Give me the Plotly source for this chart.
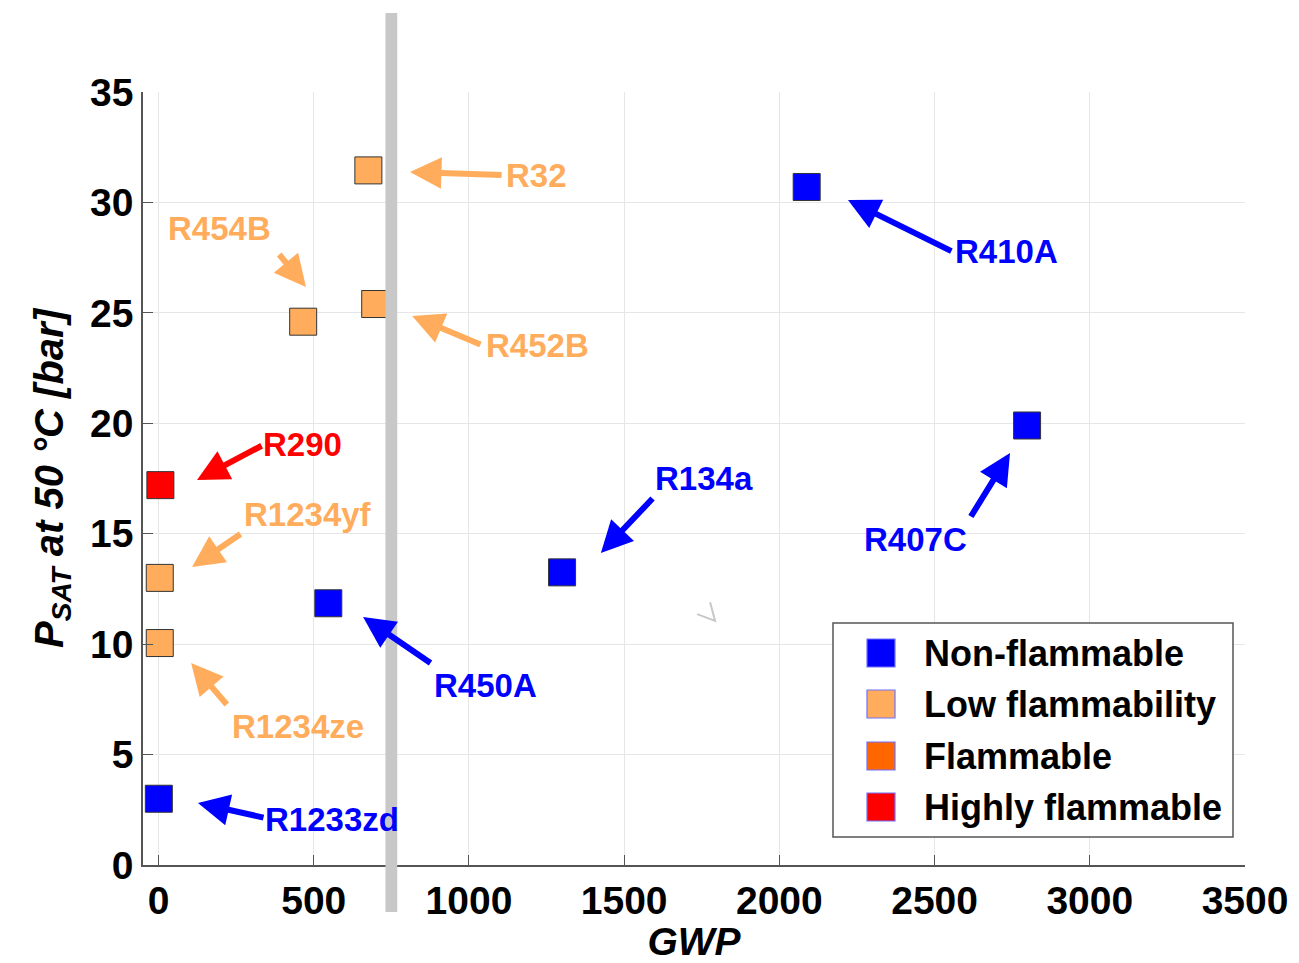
import plotly.graph_objects as go

# Refrigerant data: GWP vs saturation pressure at 50 °C
refrigerants = ["R32", "R454B", "R452B", "R290", "R1234yf", "R1234ze",
                "R1233zd", "R450A", "R134a", "R410A", "R407C"]
gwp = [676, 466, 698, 6, 4, 4, 1, 547, 1300, 2088, 2798]
psat = [31.45, 24.6, 25.4, 17.2, 13.0, 10.05, 3.0, 11.85, 13.25, 30.7, 19.9]
category = ["Low flammability", "Low flammability", "Low flammability",
            "Highly flammable", "Low flammability", "Low flammability",
            "Non-flammable", "Non-flammable", "Non-flammable",
            "Non-flammable", "Non-flammable"]

categories = ["Non-flammable", "Low flammability", "Flammable", "Highly flammable"]
cat_colors = {
    "Non-flammable": "#0000ff",
    "Low flammability": "#ffad5c",
    "Flammable": "#ff6600",
    "Highly flammable": "#ff0000",
}

# Label placement: (label x, label y, arrow tail x, tail y, arrow tip x, tip y)
label_pos = {
    "R32":     (1219, 31.24, 1110, 31.24, 810, 31.38),
    "R454B":   (198, 28.80, 385, 27.71, 475, 26.17),
    "R452B":   (1222, 23.50, 1042, 23.54, 817, 24.86),
    "R290":    (465, 19.06, 337, 19.02, 124, 17.43),
    "R1234yf": (481, 15.89, 269, 15.03, 108, 13.49),
    "R1234ze": (449, 6.29, 224, 7.20, 105, 9.15),
    "R1233zd": (559, 2.04, 343, 2.13, 127, 2.81),
    "R450A":   (1052, 8.15, 881, 9.10, 659, 11.23),
    "R134a":   (1757, 17.52, 1596, 16.66, 1425, 14.13),
    "R410A":   (2733, 27.76, 2559, 27.76, 2221, 30.11),
    "R407C":   (2440, 14.72, 2614, 15.71, 2743, 18.65),
}

# GWP threshold band
gwp_limit = 750

# Small stray stroke in the plot area
stroke_x = [1735, 1793, 1777]
stroke_y = [11.36, 11.05, 11.9]

x_ticks = [0, 500, 1000, 1500, 2000, 2500, 3000, 3500]
y_ticks = [0, 5, 10, 15, 20, 25, 30, 35]

FONT = "Liberation Sans, Arial, sans-serif"

fig = go.Figure()

for cat in categories:
    xs = [g for g, c in zip(gwp, category) if c == cat]
    ys = [p for p, c in zip(psat, category) if c == cat]
    if not xs:
        continue
    fig.add_trace(go.Scatter(
        x=xs, y=ys, mode="markers", name=cat, showlegend=False,
        marker=dict(symbol="square", size=27, color=cat_colors[cat],
                    line=dict(color="#333333", width=1)),
    ))

annotations = []
for name, cat in zip(refrigerants, category):
    lx, ly, tx, ty, hx, hy = label_pos[name]
    col = cat_colors[cat]
    annotations.append(dict(
        x=hx, y=hy, ax=tx, ay=ty, xref="x", yref="y", axref="x", ayref="y",
        text="", showarrow=True, arrowhead=2, arrowsize=1.05, arrowwidth=6,
        arrowcolor=col, standoff=0, startstandoff=0,
    ))
    annotations.append(dict(
        x=lx, y=ly, xref="x", yref="y", text=f"<b>{name}</b>",
        showarrow=False, font=dict(family=FONT, size=33, color=col),
        xanchor="center", yanchor="middle",
    ))

# Legend drawn in paper coordinates
PLOT_L, PLOT_R, PLOT_T, PLOT_B = 143, 1245, 92, 865
W, H = PLOT_R - PLOT_L, PLOT_B - PLOT_T


def px(xp):
    return (xp - PLOT_L) / W


def py(yp):
    return (PLOT_B - yp) / H


shapes = []
shapes.append(dict(type="rect", xref="paper", yref="paper",
                   x0=px(833), x1=px(1233), y0=py(837), y1=py(623),
                   line=dict(color="#555555", width=1.5), fillcolor="white",
                   layer="above"))
row_y = [653, 704, 756, 807]
for cat, ry in zip(categories, row_y):
    shapes.append(dict(type="rect", xref="paper", yref="paper",
                       x0=px(867), x1=px(895), y0=py(ry + 14), y1=py(ry - 14),
                       fillcolor=cat_colors[cat],
                       line=dict(color="#7070ff", width=1.2), layer="above"))
    annotations.append(dict(
        x=px(922), y=py(ry), xref="paper", yref="paper",
        text=f"<b>{cat}</b>", showarrow=False, xanchor="left",
        yanchor="middle", font=dict(family=FONT, size=36, color="black"),
    ))

# GWP threshold bar
shapes.append(dict(type="rect", xref="x", yref="paper",
                   x0=gwp_limit - 19, x1=gwp_limit + 19,
                   y0=py(912), y1=py(13),
                   fillcolor="#c8c8c8", line=dict(width=0), layer="above"))

# Stray stroke
shapes.append(dict(type="path", xref="x", yref="y",
                   path="M {} {} L {} {} L {} {}".format(
                       stroke_x[0], stroke_y[0], stroke_x[1], stroke_y[1],
                       stroke_x[2], stroke_y[2]),
                   line=dict(color="#c8c8c8", width=2)))

fig.update_layout(
    width=1299, height=963,
    margin=dict(l=PLOT_L, r=1299 - PLOT_R, t=PLOT_T, b=963 - PLOT_B),
    paper_bgcolor="white", plot_bgcolor="white",
    showlegend=False,
    annotations=annotations,
    shapes=shapes,
    font=dict(family=FONT, color="black"),
)

fig.update_xaxes(
    range=[-50, 3500], tickvals=x_ticks,
    ticktext=[f"<b>{v}</b>" for v in x_ticks],
    tickfont=dict(family=FONT, size=39, color="black"),
    ticks="inside", ticklen=10, tickcolor="#555555",
    showline=True, linecolor="#555555", linewidth=1.5,
    showgrid=True, gridcolor="#e6e6e6", gridwidth=1, zeroline=False,
    title=dict(text="<b><i>GWP</i></b>",
               font=dict(family=FONT, size=39, color="black"), standoff=0),
)
fig.update_yaxes(
    range=[0, 35], tickvals=y_ticks,
    ticktext=[f"<b>{v}</b>" for v in y_ticks],
    tickfont=dict(family=FONT, size=39, color="black"),
    ticks="inside", ticklen=10, tickcolor="#555555",
    showline=True, linecolor="#555555", linewidth=1.5,
    showgrid=True, gridcolor="#e6e6e6", gridwidth=1, zeroline=False,
    title=dict(text="<b><i>P<sub>SAT</sub> at 50 °C [bar]</i></b>",
               font=dict(family=FONT, size=40, color="black"), standoff=14),
)

fig.write_html("out.html")
